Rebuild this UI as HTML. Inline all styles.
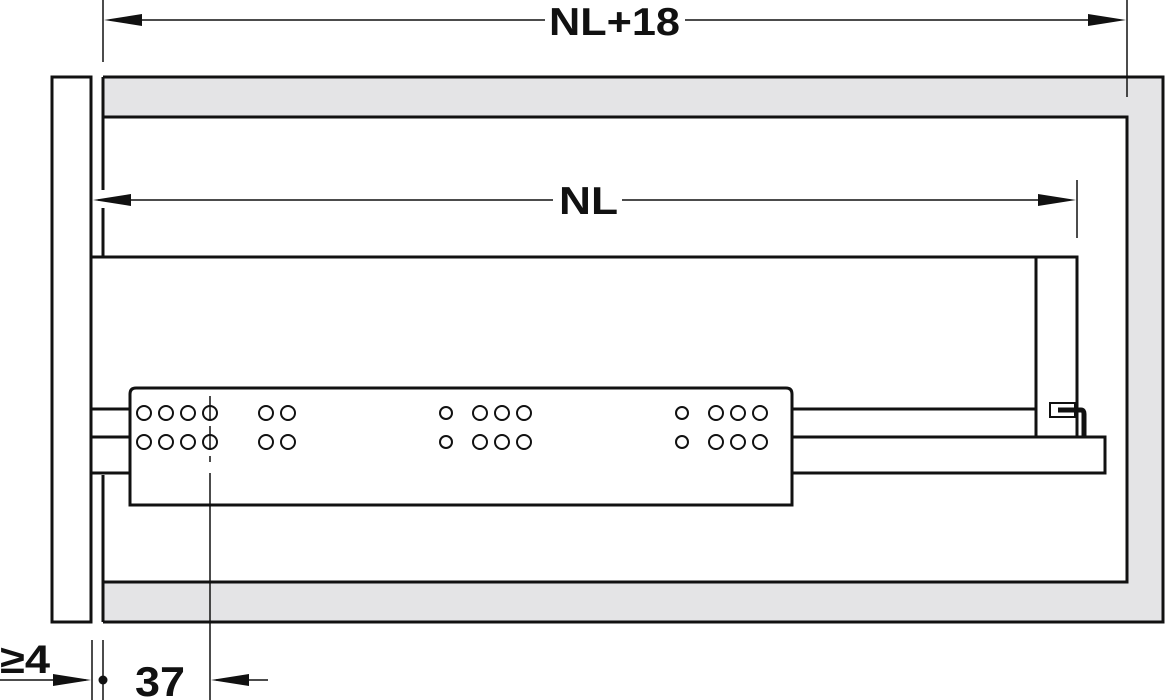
<!DOCTYPE html>
<html><head><meta charset="utf-8"><style>html,body{margin:0;padding:0;background:#fff}svg{display:block}</style></head>
<body>
<svg width="1166" height="700" viewBox="0 0 1166 700" xmlns="http://www.w3.org/2000/svg" font-family="Liberation Sans, sans-serif">
<g fill="none" stroke="#111" stroke-width="3">
<rect x="103" y="77" width="1060" height="40" fill="#e4e4e6" stroke="none"/>
<rect x="103" y="582" width="1060" height="40" fill="#e4e4e6" stroke="none"/>
<rect x="1127" y="77" width="36" height="545" fill="#e4e4e6" stroke="none"/>
<path d="M103 77 H1163 V622 H103"/>
<path d="M103 117 H1127 V582 H103"/>
<path d="M103 77 V190 M103 208 V257 M103 475 V622"/>
<rect x="52" y="77" width="39" height="545" fill="#fff"/>
<path d="M92 257 H1077 V437"/>
<path d="M1036 257 V437"/>
<path d="M92 409 H130 M92 437 H130 M92 473 H130"/>
<path d="M792 409 H1036 M792 437 H1105 V473 H792"/>
<path d="M130 505 V394 Q130 388 136 388 H786 Q792 388 792 394 V505 Z" fill="#fff"/>
<rect x="1050" y="403" width="25" height="14" stroke-width="2"/>
<path d="M1058 410 H1081 Q1084 410 1084 414 V437" stroke-width="5"/>
</g>
<g fill="#fff" stroke="#111" stroke-width="2">
<circle cx="144" cy="413" r="7"/><circle cx="166" cy="413" r="7"/><circle cx="188" cy="413" r="7"/><circle cx="210" cy="413" r="7"/>
<circle cx="144" cy="442" r="7"/><circle cx="166" cy="442" r="7"/><circle cx="188" cy="442" r="7"/><circle cx="210" cy="442" r="7"/>
<circle cx="266" cy="413" r="7"/><circle cx="288" cy="413" r="7"/><circle cx="266" cy="442" r="7"/><circle cx="288" cy="442" r="7"/>
<circle cx="446" cy="413" r="6"/><circle cx="480" cy="413" r="7"/><circle cx="502" cy="413" r="7"/><circle cx="524" cy="413" r="7"/>
<circle cx="446" cy="442" r="6"/><circle cx="480" cy="442" r="7"/><circle cx="502" cy="442" r="7"/><circle cx="524" cy="442" r="7"/>
<circle cx="682" cy="413" r="6"/><circle cx="716" cy="413" r="7"/><circle cx="738" cy="413" r="7"/><circle cx="760" cy="413" r="7"/>
<circle cx="682" cy="442" r="6"/><circle cx="716" cy="442" r="7"/><circle cx="738" cy="442" r="7"/><circle cx="760" cy="442" r="7"/>
</g>
<g stroke="#111" stroke-width="1.5" fill="none">
<path d="M210 396 V420 M210 426 V450 M210 456 V462 M210 473 V700"/>
<path d="M103 0 V62 M1127 0 V97"/>
<path d="M110 20 H545 M685 20 H1120"/>
<path d="M1077 180 V238"/>
<path d="M98 200 H553 M622 200 H1070"/>
<path d="M92 640 V700 M103 640 V700"/>
<path d="M0 680 H86 M216 680 H268"/>
</g>
<g fill="#111">
<path d="M104 20 L142 14 L142 26 Z"/>
<path d="M1126 20 L1088 14 L1088 26 Z"/>
<path d="M93 200 L131 194 L131 206 Z"/>
<path d="M1076 200 L1038 194 L1038 206 Z"/>
<path d="M91 680 L53 674 L53 686 Z"/>
<path d="M211 680 L249 674 L249 686 Z"/>
<circle cx="103" cy="680" r="4.5"/>
<text x="549" y="35" font-size="39" font-weight="bold" textLength="131" lengthAdjust="spacingAndGlyphs">NL+18</text>
<text x="559" y="214" font-size="39" font-weight="bold" textLength="59" lengthAdjust="spacingAndGlyphs">NL</text>
<text x="135" y="696" font-size="42" font-weight="bold" textLength="50" lengthAdjust="spacingAndGlyphs">37</text>
<text x="0" y="673" font-size="40" font-weight="bold" textLength="50" lengthAdjust="spacingAndGlyphs">≥4</text>
</g>
</svg>
</body></html>
